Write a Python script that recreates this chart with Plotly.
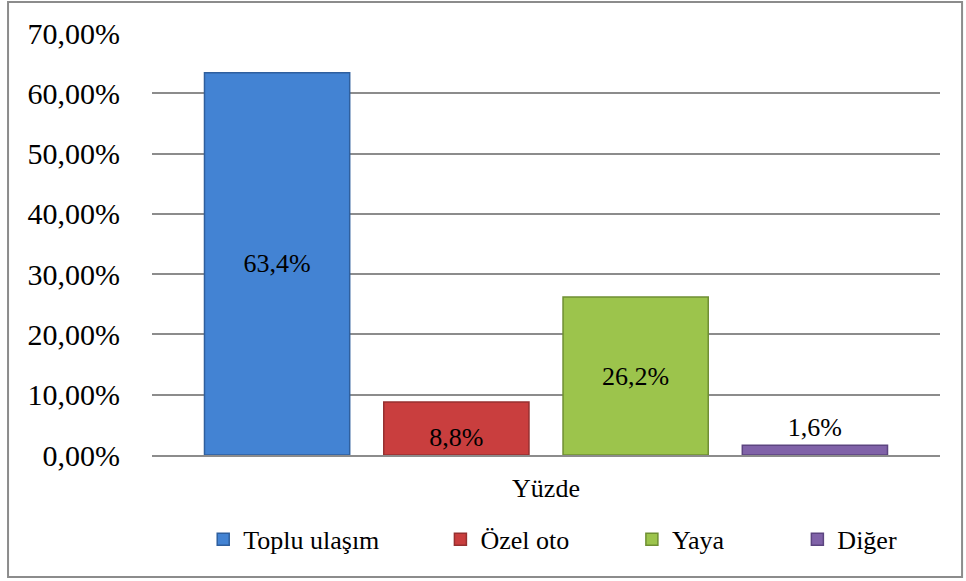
import plotly.graph_objects as go

categories = ["Yüzde"]
series_names = ["Toplu ulaşım", "Özel oto", "Yaya", "Diğer"]
series_values = [63.4, 8.8, 26.2, 1.6]
y_ticks = [0, 10, 20, 30, 40, 50, 60, 70]
y_tick_labels = ["0,00%", "10,00%", "20,00%", "30,00%", "40,00%", "50,00%", "60,00%", "70,00%"]

fills = ["#4383D3", "#C93E3E", "#9CC44C", "#8062A8"]
edges = ["#2F5F9E", "#963030", "#6F8F33", "#5C4580"]
label_pos = [("inside", "middle"), ("inside", "start"), ("inside", "middle"), ("outside", "middle")]
legend_x = [0.065, 0.366, 0.609, 0.819]

serif = "Liberation Serif"

fig = go.Figure()
for i, name in enumerate(series_names):
    pos, anchor = label_pos[i]
    fig.add_trace(
        go.Bar(
            x=categories,
            y=[series_values[i]],
            name=name,
            marker=dict(color=fills[i], line=dict(color=edges[i], width=1.5)),
            texttemplate="%{y:.1f}%",
            textposition=pos,
            insidetextanchor=anchor,
            textangle=0,
            constraintext="none",
            textfont=dict(family=serif, size=26, color="black"),
            insidetextfont=dict(family=serif, size=26, color="black"),
            outsidetextfont=dict(family=serif, size=26, color="black"),
            cliponaxis=False,
            hoverinfo="skip",
            legend="legend" if i == 0 else "legend%d" % (i + 1),
        )
    )

# one small legend per entry so the spacing can follow the original
legends = {}
for i in range(4):
    key = "legend" if i == 0 else "legend%d" % (i + 1)
    legends[key] = dict(
        x=legend_x[i],
        y=-0.2,
        xanchor="left",
        yanchor="middle",
        orientation="h",
        font=dict(family=serif, size=26, color="black"),
        bgcolor="rgba(0,0,0,0)",
    )

fig.update_layout(
    width=966,
    height=581,
    margin=dict(l=152, r=26, t=33, b=126),
    paper_bgcolor="white",
    plot_bgcolor="white",
    separators=",.",
    barmode="group",
    bargap=0.09,
    bargroupgap=0.19,
    showlegend=True,
    font=dict(family=serif, color="black"),
    **legends,
)

fig.update_yaxes(
    range=[0, 70],
    tickvals=y_ticks,
    ticktext=y_tick_labels,
    tickfont=dict(family=serif, size=30, color="black"),
    showgrid=True,
    gridcolor="#8C8C8C",
    gridwidth=1.5,
    zeroline=False,
    showline=False,
    ticklabelstandoff=31,
)
fig.update_xaxes(
    tickfont=dict(family=serif, size=26, color="black"),
    showline=True,
    linecolor="#8C8C8C",
    linewidth=1.5,
    ticks="",
    ticklabelstandoff=9,
)

# outer chart border
fig.add_shape(
    type="rect",
    xref="paper",
    yref="paper",
    x0=-0.1827,
    x1=1.028,
    y0=-0.289,
    y1=1.0735,
    line=dict(color="#8C8C8C", width=2),
    layer="below",
)

fig.write_html(
    "out.html",
    config={"displayModeBar": False},
    post_script="document.body.style.margin='0px';",
)
